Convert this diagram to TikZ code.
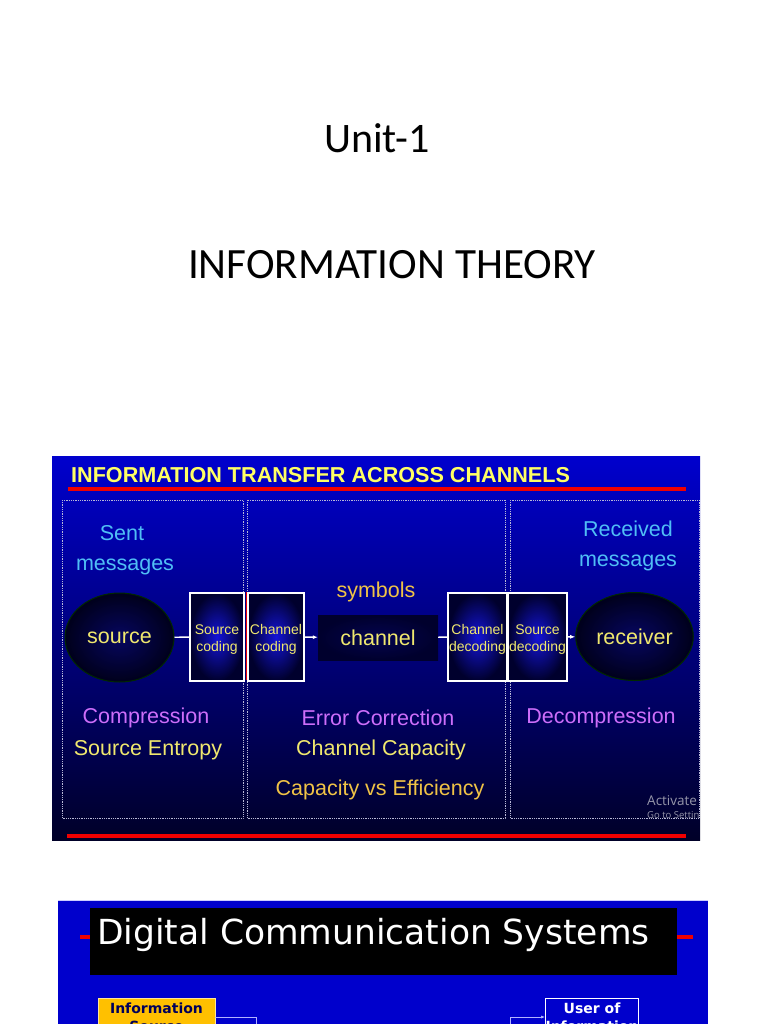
\documentclass[tikz,border=0pt]{standalone}
\usepackage{fontspec}
\setmainfont{Liberation Sans}
\newfontfamily\calfont{Carlito}
\newfontfamily\tahfont{DejaVu Sans}
\newfontfamily\segfont{Open Sans}
\usetikzlibrary{arrows.meta,shapes.geometric}
\definecolor{slidetop}{RGB}{0,0,205}
\definecolor{slidemid}{RGB}{0,0,150}
\definecolor{slidebot}{RGB}{0,0,40}
\definecolor{txtyellow}{RGB}{240,232,110}
\definecolor{ttlyellow}{RGB}{255,255,100}
\definecolor{txtblue}{RGB}{80,190,245}
\definecolor{txtviolet}{RGB}{205,110,250}
\definecolor{txtorange}{RGB}{240,195,70}
\definecolor{boxdark}{RGB}{0,0,45}
\definecolor{boxlight}{RGB}{20,20,215}
\definecolor{slidered}{RGB}{240,0,0}
\definecolor{dotgray}{RGB}{185,185,215}
\definecolor{srcyellow}{RGB}{255,192,0}
\definecolor{srcnavy}{RGB}{0,0,90}
\definecolor{slide2}{RGB}{0,0,204}
\definecolor{wmgray}{RGB}{150,150,170}
\newcommand{\lowtwo}[2]{\raisebox{-3pt}[\height][\depth]{\begin{tabular}{@{}c@{}}#1\\#2\end{tabular}}}
\begin{document}
\begin{tikzpicture}[x=1pt,y=-1pt,
  bigtitle/.style={font=\calfont\fontsize{42}{50}\selectfont, text=black},
  bodytxt/.style={font=\fontsize{21.5}{25}\selectfont, inner sep=0},
  dotbox/.style={draw=dotgray, densely dotted, line width=0.8},
  codec/.style={draw=white, line width=1.4, inner color=boxlight, outer color=boxdark,
    text=txtyellow, font=\fontsize{14}{17}\selectfont, inner sep=0,
    minimum height=88},
  blob/.style={ellipse, inner color=boxdark!70!boxlight, outer color=boxdark!60!black,
    draw=black!60!green!40!black, line width=1, text=txtyellow,
    font=\fontsize{21.5}{25}\selectfont},
  wire/.style={draw=white, line width=1.4},
  wirearrow/.style={wire, -{Latex[length=5pt,width=4pt]}},
  redbar/.style={draw=slidered, line width=4.5},
  s2wire/.style={draw=white!70!blue, line width=0.8}]
\useasboundingbox (0,0) rectangle (768,1024);
\fill[white] (0,0) rectangle (768,1024);

% page titles
\node[bigtitle] (unit) at (377,138) {Unit-1};
\node[bigtitle, font=\calfont\fontsize{43.2}{50}\selectfont] (theory) at (392,265) {INFORMATION THEORY};

% ---------- slide 1 ----------
\begin{scope}
\clip (52,456) rectangle (700,840);
\shade[top color=slidetop, middle color=slidemid, bottom color=slidebot] (52,456) rectangle (700,840);
\node[anchor=west, inner sep=0, text=ttlyellow, font=\bfseries\fontsize{21.6}{25}\selectfont] (s1title) at (71,475) {INFORMATION TRANSFER ACROSS CHANNELS};
\draw[redbar] (68,489) -- (686,489);
\draw[dotbox] (62,500) rectangle (243,818);
\draw[dotbox] (247,500) rectangle (505,818);
\draw[dotbox] (510,500) rectangle (699,818);

\node[bodytxt, text=txtblue] (sent) at (122,533) {Sent};
\node[bodytxt, text=txtblue] (sentm) at (125,567) {messages};
\node[bodytxt, text=txtblue] (recd) at (628,529) {Received};
\node[bodytxt, text=txtblue] (recdm) at (628,563) {messages};
\node[bodytxt, text=txtorange] (symb) at (376,592) {symbols};

\node[blob, minimum width=109, minimum height=89] (srcE) at (119.5,637.5) {source};
\node[blob, minimum width=107, minimum height=88] (recv) at (634.5,636.5) {receiver};

\node[codec, minimum width=54] (scod) at (217,637) {\lowtwo{Source}{coding}};
\node[codec, minimum width=56] (ccod) at (276,637) {\lowtwo{Channel}{coding}};
\node[codec, minimum width=59] (cdec) at (477.5,637) {\lowtwo{Channel}{decoding}};
\node[codec, minimum width=59] (sdec) at (537.5,637) {\lowtwo{Source}{decoding}};
\draw[slidered, line width=0.9] (scod.north east) ++(2,0) -- ++(0,88);

\node[inner color=boxdark!80!boxlight, outer color=boxdark, minimum width=120, minimum height=45,
  text=txtyellow, font=\fontsize{21.5}{25}\selectfont, inner sep=0] (chan) at (378,637.5) {channel};

\draw[wire] (srcE) -- (scod);
\draw[wirearrow] (ccod) -- (chan);
\draw[wire] (chan) -- (cdec);
\draw[wirearrow] (sdec) -- (recv);

\node[bodytxt, text=txtviolet] (comp) at (146,718) {Compression};
\node[bodytxt, text=txtyellow] (sent2) at (148,750) {Source Entropy};
\node[bodytxt, text=txtviolet] (errc) at (378,718) {Error Correction};
\node[bodytxt, text=txtyellow] (chcap) at (381,750) {Channel Capacity};
\node[bodytxt, text=txtorange] (cvse) at (380,790) {Capacity vs Efficiency};
\node[bodytxt, text=txtviolet] (decomp) at (601,718) {Decompression};

\node[anchor=west, inner sep=0, text=wmgray, font=\segfont\fontsize{13.5}{15}\selectfont] (wm1) at (647,801) {Activate};
\node[anchor=west, inner sep=0, text=wmgray, font=\segfont\fontsize{9.5}{11}\selectfont] (wm2) at (647,815) {Go to Settin};

\draw[redbar] (67,836) -- (686,836);
\end{scope}

% ---------- slide 2 ----------
\begin{scope}
\clip (58,900) rectangle (708,1024);
\fill[slide2] (58,900) rectangle (708,1040);
\draw[white!80!blue, line width=0.8] (58,900.5) -- (708,900.5);
\draw[redbar, line width=4] (80,937) -- (90,937);
\draw[redbar, line width=4] (677,937) -- (693,937);
\fill[black] (90,908) rectangle (677,975);
\node[anchor=base west, inner sep=0, text=white, font=\tahfont\fontsize{34.5}{40}\selectfont] (s2title) at (97,944) {Digital Communication Systems};

\node[fill=srcyellow, draw=white!60!srcyellow, line width=0.8, minimum width=117, minimum height=38,
  inner sep=0, align=center, text=srcnavy, font=\tahfont\bfseries\fontsize{14}{18}\selectfont] (isrc) at (156.5,1017) {Information\\Source};
\node[draw=white, line width=0.8, minimum width=90, minimum height=38,
  inner sep=0, align=center, text=white, font=\tahfont\bfseries\fontsize{14}{18}\selectfont] (user) at (592,1017) {User of\\Information};
\coordinate (c1) at (256,1030);
\coordinate (c2) at (510,1030);
\draw[s2wire] (isrc.east) -| (c1);
\draw[s2wire, -{Latex[length=4pt,width=3pt]}] (c2) |- (user.west);
\end{scope}
\end{tikzpicture}
\end{document}
